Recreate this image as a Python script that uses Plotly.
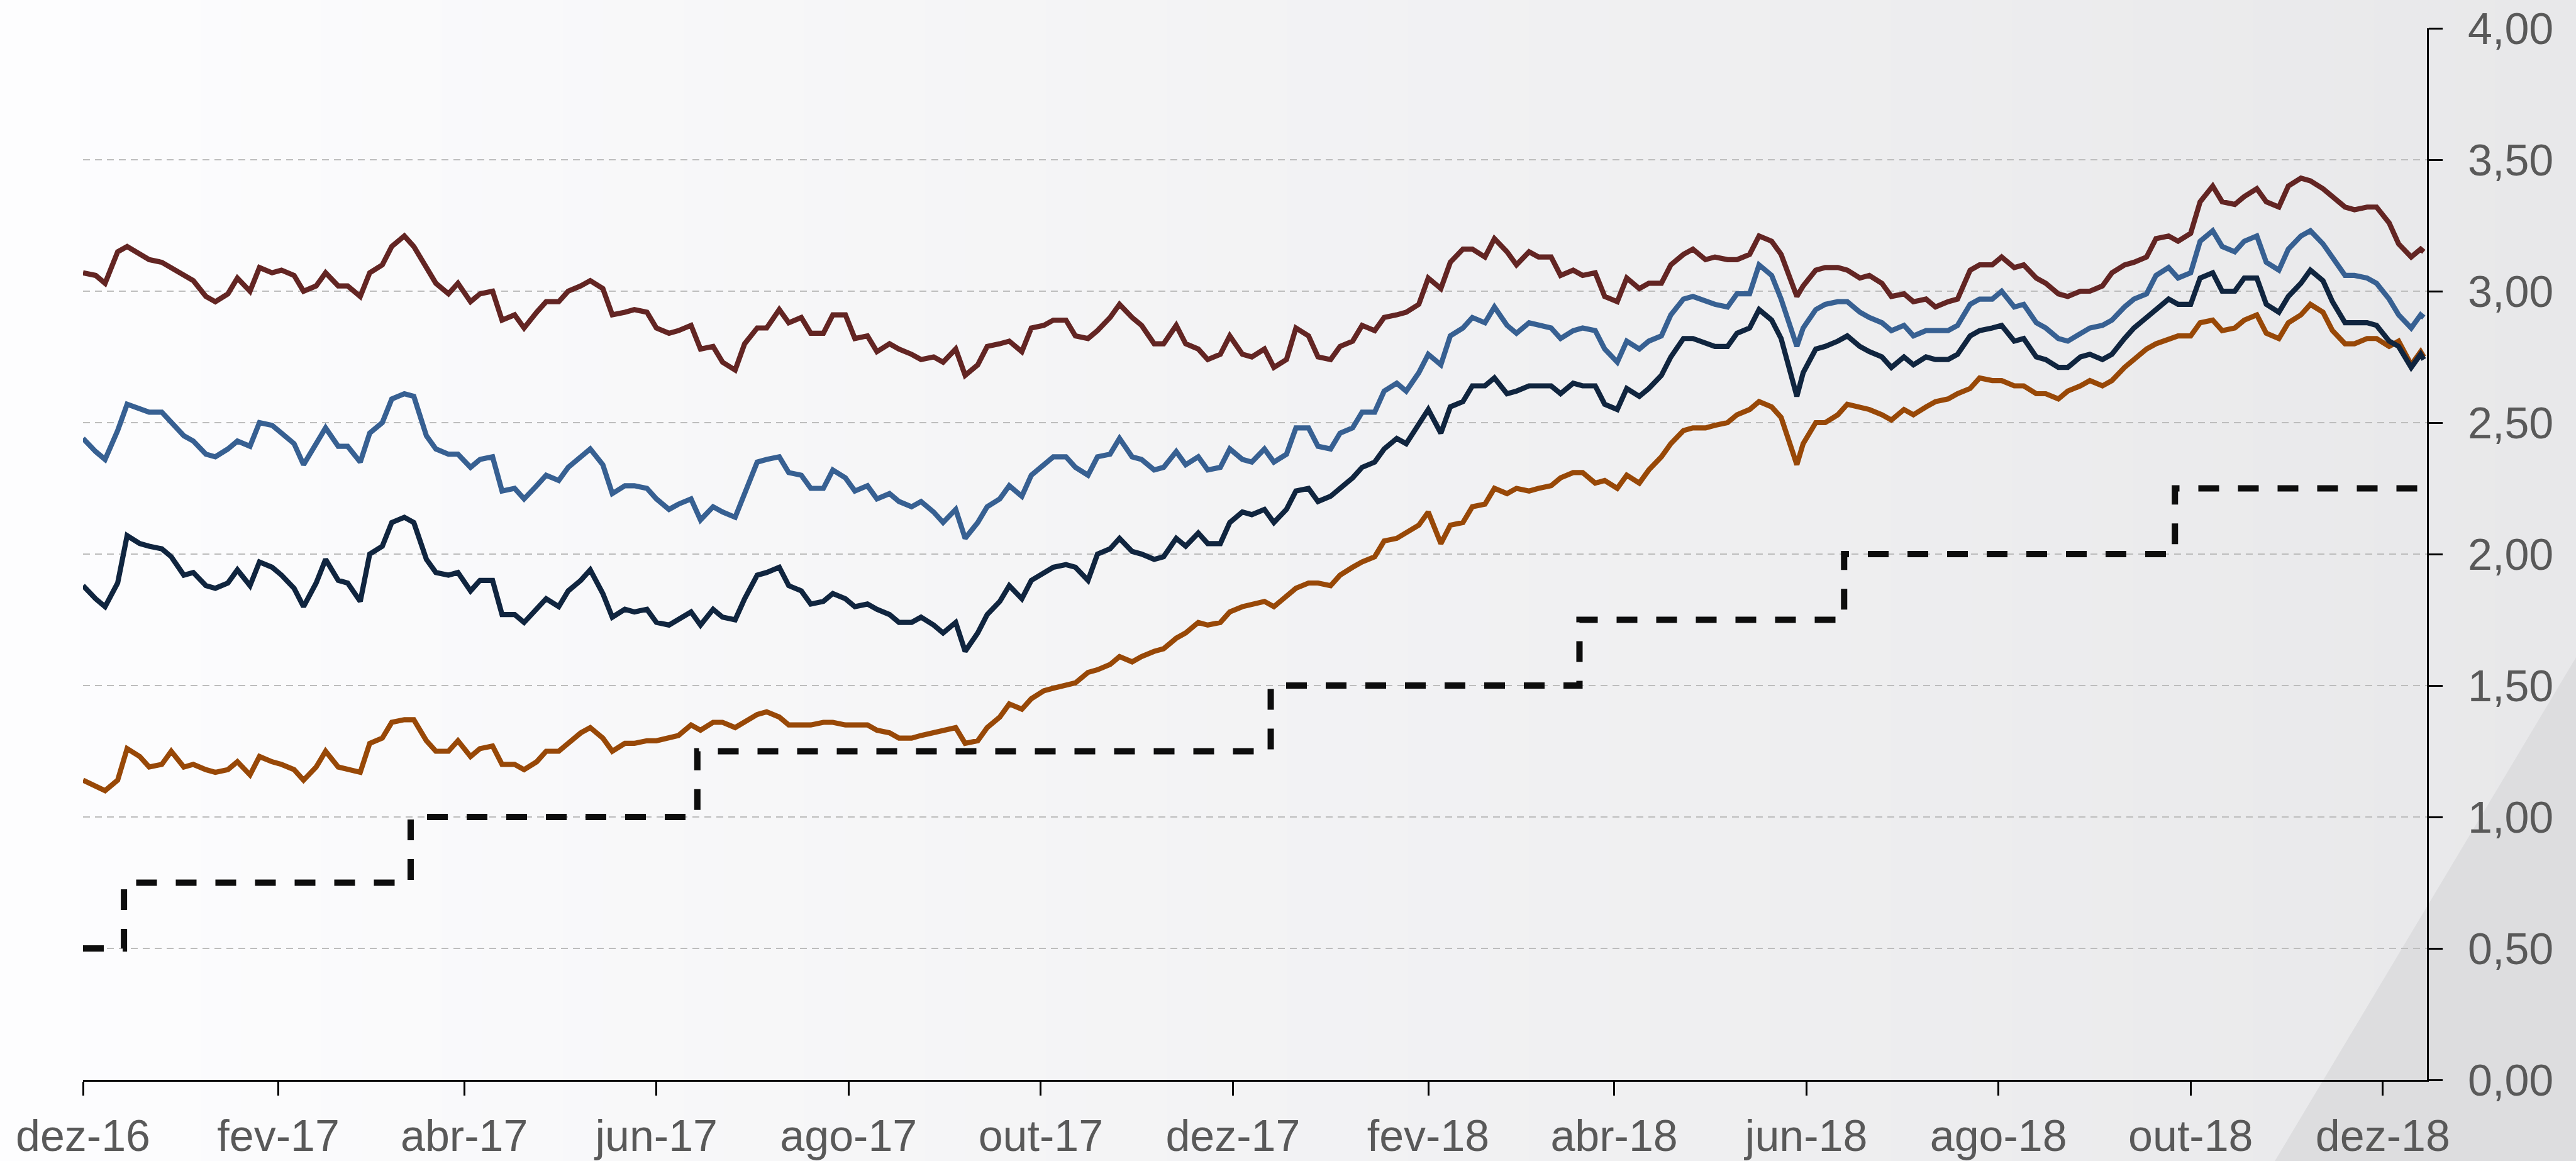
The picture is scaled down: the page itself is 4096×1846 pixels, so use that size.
import plotly.graph_objects as go

# ---------------- data ----------------
DATES = [
    "2016-12-01", "2016-12-05", "2016-12-08", "2016-12-12", "2016-12-15", "2016-12-19", "2016-12-22", "2016-12-26", "2016-12-29",
    "2017-01-02", "2017-01-05", "2017-01-09", "2017-01-12", "2017-01-16", "2017-01-19", "2017-01-23", "2017-01-26", "2017-01-30",
    "2017-02-02", "2017-02-06", "2017-02-09", "2017-02-13", "2017-02-16", "2017-02-20", "2017-02-23", "2017-02-27",
    "2017-03-02", "2017-03-06", "2017-03-09", "2017-03-13", "2017-03-16", "2017-03-20", "2017-03-23", "2017-03-27", "2017-03-30",
    "2017-04-03", "2017-04-06", "2017-04-10", "2017-04-13", "2017-04-17", "2017-04-20", "2017-04-24", "2017-04-27",
    "2017-05-01", "2017-05-04", "2017-05-08", "2017-05-11", "2017-05-15", "2017-05-18", "2017-05-22", "2017-05-25", "2017-05-29",
    "2017-06-01", "2017-06-05", "2017-06-08", "2017-06-12", "2017-06-15", "2017-06-19", "2017-06-22", "2017-06-26", "2017-06-29",
    "2017-07-03", "2017-07-06", "2017-07-10", "2017-07-13", "2017-07-17", "2017-07-20", "2017-07-24", "2017-07-27", "2017-07-31",
    "2017-08-03", "2017-08-07", "2017-08-10", "2017-08-14", "2017-08-17", "2017-08-21", "2017-08-24", "2017-08-28", "2017-08-31",
    "2017-09-04", "2017-09-07", "2017-09-11", "2017-09-14", "2017-09-18", "2017-09-21", "2017-09-25",
    "2017-09-28",
    "2017-10-02", "2017-10-05", "2017-10-09", "2017-10-12", "2017-10-16", "2017-10-19", "2017-10-23", "2017-10-26", "2017-10-30",
    "2017-11-02", "2017-11-06", "2017-11-09", "2017-11-13", "2017-11-16", "2017-11-20", "2017-11-23", "2017-11-27", "2017-11-30",
    "2017-12-04", "2017-12-07", "2017-12-11", "2017-12-14", "2017-12-18", "2017-12-21", "2017-12-25", "2017-12-28",
    "2018-01-01", "2018-01-04", "2018-01-08", "2018-01-11", "2018-01-15", "2018-01-18", "2018-01-22", "2018-01-25", "2018-01-29",
    "2018-02-01", "2018-02-05", "2018-02-08", "2018-02-12", "2018-02-15", "2018-02-19",
    "2018-02-22", "2018-02-26",
    "2018-03-01", "2018-03-05", "2018-03-08", "2018-03-12", "2018-03-15", "2018-03-19", "2018-03-22", "2018-03-26", "2018-03-29",
    "2018-04-02", "2018-04-05", "2018-04-09", "2018-04-12", "2018-04-16", "2018-04-19", "2018-04-23", "2018-04-26", "2018-04-30",
    "2018-05-03", "2018-05-07", "2018-05-10", "2018-05-14", "2018-05-17", "2018-05-21", "2018-05-24", "2018-05-29", "2018-05-31",
    "2018-06-04", "2018-06-07", "2018-06-11", "2018-06-14", "2018-06-18", "2018-06-21", "2018-06-25", "2018-06-28",
    "2018-07-02", "2018-07-05", "2018-07-09", "2018-07-12", "2018-07-16", "2018-07-19",
    "2018-07-23", "2018-07-26", "2018-07-30",
    "2018-08-02", "2018-08-06", "2018-08-09", "2018-08-13", "2018-08-16", "2018-08-20", "2018-08-23", "2018-08-27", "2018-08-30",
    "2018-09-03", "2018-09-06", "2018-09-10", "2018-09-13", "2018-09-17", "2018-09-20", "2018-09-24", "2018-09-27",
    "2018-10-01", "2018-10-04", "2018-10-08", "2018-10-11", "2018-10-15", "2018-10-18", "2018-10-22", "2018-10-25", "2018-10-29",
    "2018-11-01", "2018-11-05", "2018-11-08", "2018-11-12", "2018-11-15", "2018-11-19", "2018-11-22", "2018-11-26", "2018-11-29",
    "2018-12-03", "2018-12-06", "2018-12-10", "2018-12-13", "2018-12-14",
]

# 30-year (dark red)
Y30 = [
    3.07, 3.06, 3.03, 3.15, 3.17, 3.14, 3.12, 3.11, 3.09,
    3.06, 3.04, 2.98, 2.96, 2.99, 3.05, 3.00, 3.09, 3.07, 3.08, 3.06, 3.00, 3.02, 3.07, 3.02, 3.02, 2.98,
    3.07, 3.10, 3.17, 3.21, 3.17, 3.09, 3.03, 2.99, 3.03, 2.96, 2.99, 3.00, 2.89, 2.91, 2.86, 2.92, 2.96,
    2.96, 3.00, 3.02, 3.04, 3.01, 2.91, 2.92, 2.93, 2.92, 2.86, 2.84, 2.85, 2.87, 2.78, 2.79, 2.73, 2.70,
    2.80, 2.86, 2.86, 2.93, 2.88, 2.90, 2.84, 2.84, 2.91, 2.91, 2.82, 2.83, 2.77, 2.80, 2.78, 2.76, 2.74,
    2.75, 2.73, 2.78, 2.68, 2.72, 2.79, 2.80, 2.81, 2.77,
    2.86, 2.87, 2.89, 2.89, 2.83, 2.82, 2.85, 2.90, 2.95, 2.90, 2.87, 2.80, 2.80, 2.87, 2.80, 2.78, 2.74,
    2.76, 2.83, 2.76, 2.75, 2.78, 2.71, 2.74, 2.86, 2.83, 2.75, 2.74, 2.79, 2.81, 2.87, 2.85, 2.90, 2.91,
    2.92, 2.95, 3.05, 3.01, 3.11, 3.16, 3.16, 3.13,
    3.20, 3.15, 3.10, 3.15, 3.13, 3.13, 3.06, 3.08, 3.06, 3.07, 2.98, 2.96, 3.05, 3.01, 3.03, 3.03, 3.10,
    3.14, 3.16, 3.12, 3.13, 3.12, 3.12, 3.14, 3.21, 3.19, 3.14, 2.98, 3.02, 3.08, 3.09, 3.09, 3.08, 3.05,
    3.06, 3.03, 2.98, 2.99, 2.96, 2.97, 2.94, 2.96, 2.97,
    3.08, 3.10, 3.10, 3.13, 3.09, 3.10, 3.05, 3.03, 2.99, 2.98, 3.00, 3.00, 3.02, 3.07, 3.10, 3.11, 3.13,
    3.20, 3.21, 3.19, 3.22, 3.34, 3.40, 3.34, 3.33, 3.36, 3.39, 3.34, 3.32, 3.40, 3.43, 3.42, 3.39, 3.36,
    3.32, 3.31, 3.32, 3.32, 3.26, 3.18, 3.13, 3.16, 3.15,
]

# 10-year (blue)
Y10 = [
    2.44, 2.39, 2.36, 2.47, 2.57, 2.55, 2.54, 2.54, 2.50,
    2.45, 2.43, 2.38, 2.37, 2.40, 2.43, 2.41, 2.50, 2.49, 2.46, 2.42, 2.34, 2.42, 2.48, 2.41, 2.41, 2.35,
    2.46, 2.50, 2.59, 2.61, 2.60, 2.45, 2.40, 2.38, 2.38, 2.33, 2.36, 2.37, 2.24, 2.25, 2.21, 2.26, 2.30,
    2.28, 2.33, 2.37, 2.40, 2.34, 2.23, 2.26, 2.26, 2.25, 2.21, 2.17, 2.19, 2.21, 2.13, 2.18, 2.16, 2.14,
    2.23, 2.35, 2.36, 2.37, 2.31, 2.30, 2.25, 2.25, 2.32, 2.29, 2.24, 2.26, 2.21, 2.23, 2.20, 2.18, 2.20,
    2.16, 2.12, 2.17, 2.06, 2.12, 2.18, 2.21, 2.26, 2.22,
    2.30, 2.34, 2.37, 2.37, 2.33, 2.30, 2.37, 2.38, 2.44, 2.37, 2.36, 2.32, 2.33, 2.39, 2.34, 2.37, 2.32,
    2.33, 2.40, 2.36, 2.35, 2.40, 2.35, 2.38, 2.48, 2.48, 2.41, 2.40, 2.46, 2.48, 2.54, 2.54, 2.62, 2.65,
    2.62, 2.69, 2.76, 2.72, 2.83, 2.86, 2.90, 2.88,
    2.94, 2.87, 2.84, 2.88, 2.87, 2.86, 2.82, 2.85, 2.86, 2.85, 2.78, 2.73, 2.81, 2.78, 2.81, 2.83, 2.91,
    2.97, 2.98, 2.96, 2.95, 2.94, 2.99, 2.99, 3.10, 3.06, 2.97, 2.79, 2.86, 2.93, 2.95, 2.96, 2.96, 2.92,
    2.90, 2.88, 2.85, 2.87, 2.83, 2.85, 2.85, 2.85, 2.87,
    2.95, 2.97, 2.97, 3.00, 2.94, 2.95, 2.88, 2.86, 2.82, 2.81, 2.84, 2.86, 2.87, 2.89, 2.94, 2.97, 2.99,
    3.06, 3.09, 3.05, 3.07, 3.19, 3.23, 3.17, 3.15, 3.19, 3.21, 3.11, 3.08, 3.16, 3.21, 3.23, 3.18, 3.13,
    3.06, 3.06, 3.05, 3.03, 2.97, 2.91, 2.86, 2.91, 2.90,
]

# 5-year (navy)
Y5 = [
    1.88, 1.83, 1.80, 1.89, 2.07, 2.04, 2.03, 2.02, 1.99,
    1.92, 1.93, 1.88, 1.87, 1.89, 1.94, 1.88, 1.97, 1.95, 1.92, 1.87, 1.80, 1.89, 1.98, 1.90, 1.89, 1.82,
    2.00, 2.03, 2.12, 2.14, 2.12, 1.98, 1.93, 1.92, 1.93, 1.86, 1.90, 1.90, 1.77, 1.77, 1.74, 1.79, 1.83,
    1.80, 1.86, 1.90, 1.94, 1.85, 1.76, 1.79, 1.78, 1.79, 1.74, 1.73, 1.75, 1.78, 1.73, 1.79, 1.76, 1.75,
    1.83, 1.92, 1.93, 1.95, 1.88, 1.86, 1.81, 1.82, 1.85, 1.83, 1.80, 1.81, 1.79, 1.77, 1.74, 1.74, 1.76,
    1.73, 1.70, 1.74, 1.63, 1.70, 1.77, 1.82, 1.88, 1.83,
    1.90, 1.93, 1.95, 1.96, 1.95, 1.90, 2.00, 2.02, 2.06, 2.01, 2.00, 1.98, 1.99, 2.06, 2.03, 2.08, 2.04,
    2.04, 2.12, 2.16, 2.15, 2.17, 2.12, 2.17, 2.24, 2.25, 2.20, 2.22, 2.25, 2.29, 2.33, 2.35, 2.40, 2.44,
    2.42, 2.49, 2.55, 2.46, 2.56, 2.58, 2.64, 2.64,
    2.67, 2.61, 2.62, 2.64, 2.64, 2.64, 2.61, 2.65, 2.64, 2.64, 2.57, 2.55, 2.63, 2.60, 2.63, 2.68, 2.75,
    2.82, 2.82, 2.80, 2.79, 2.79, 2.84, 2.86, 2.93, 2.89, 2.82, 2.60, 2.69, 2.78, 2.79, 2.81, 2.83, 2.79,
    2.77, 2.75, 2.71, 2.75, 2.72, 2.75, 2.74, 2.74, 2.76,
    2.83, 2.85, 2.86, 2.87, 2.81, 2.82, 2.75, 2.74, 2.71, 2.71, 2.75, 2.76, 2.74, 2.76, 2.82, 2.86, 2.90,
    2.93, 2.97, 2.95, 2.95, 3.05, 3.07, 3.00, 3.00, 3.05, 3.05, 2.95, 2.92, 2.98, 3.03, 3.08, 3.04, 2.96,
    2.88, 2.88, 2.88, 2.87, 2.81, 2.79, 2.71, 2.76, 2.74,
]

# 2-year (orange)
Y2 = [
    1.14, 1.12, 1.10, 1.14, 1.26, 1.23, 1.19, 1.20, 1.25,
    1.19, 1.20, 1.18, 1.17, 1.18, 1.21, 1.16, 1.23, 1.21, 1.20, 1.18, 1.14, 1.19, 1.25, 1.19, 1.18, 1.17,
    1.28, 1.30, 1.36, 1.37, 1.37, 1.29, 1.25, 1.25, 1.29, 1.23, 1.26, 1.27, 1.20, 1.20, 1.18, 1.21, 1.25,
    1.25, 1.28, 1.32, 1.34, 1.30, 1.25, 1.28, 1.28, 1.29, 1.29, 1.30, 1.31, 1.35, 1.33, 1.36, 1.36, 1.34,
    1.36, 1.39, 1.40, 1.38, 1.35, 1.35, 1.35, 1.36, 1.36, 1.35, 1.35, 1.35, 1.33, 1.32, 1.30, 1.30, 1.31,
    1.32, 1.33, 1.34, 1.28, 1.29, 1.34, 1.38, 1.43, 1.41,
    1.45, 1.48, 1.49, 1.50, 1.51, 1.55, 1.56, 1.58, 1.61, 1.59, 1.61, 1.63, 1.64, 1.68, 1.70, 1.74, 1.73,
    1.74, 1.78, 1.80, 1.81, 1.82, 1.80, 1.84, 1.87, 1.89, 1.89, 1.88, 1.92, 1.95, 1.97, 1.99, 2.05, 2.06,
    2.08, 2.11, 2.16, 2.04, 2.11, 2.12, 2.18, 2.19,
    2.25, 2.23, 2.25, 2.24, 2.25, 2.26, 2.29, 2.31, 2.31, 2.27, 2.28, 2.25, 2.30, 2.27, 2.32, 2.37, 2.42,
    2.47, 2.48, 2.48, 2.49, 2.50, 2.53, 2.55, 2.58, 2.56, 2.52, 2.34, 2.42, 2.50, 2.50, 2.53, 2.57, 2.56,
    2.55, 2.53, 2.51, 2.55, 2.53, 2.56, 2.58, 2.59, 2.61,
    2.63, 2.67, 2.66, 2.66, 2.64, 2.64, 2.61, 2.61, 2.59, 2.62, 2.64, 2.66, 2.64, 2.66, 2.71, 2.74, 2.78,
    2.80, 2.82, 2.83, 2.83, 2.88, 2.89, 2.85, 2.86, 2.89, 2.91, 2.84, 2.82, 2.88, 2.91, 2.95, 2.92, 2.85,
    2.80, 2.80, 2.82, 2.82, 2.79, 2.81, 2.72, 2.77, 2.75,
]

# Fed funds target (upper bound), step changes
FED_DATES = ["2016-12-01", "2016-12-14", "2017-03-15", "2017-06-14", "2017-12-13",
             "2018-03-21", "2018-06-13", "2018-09-26", "2018-12-14"]
FED_RATE = [0.50, 0.75, 1.00, 1.25, 1.50, 1.75, 2.00, 2.25, 2.25]

X_TICK_DATES = ["2016-12-01", "2017-02-01", "2017-04-01", "2017-06-01", "2017-08-01",
                "2017-10-01", "2017-12-01", "2018-02-01", "2018-04-01", "2018-06-01",
                "2018-08-01", "2018-10-01", "2018-12-01"]
X_TICK_LABELS = ["dez-16", "fev-17", "abr-17", "jun-17", "ago-17", "out-17", "dez-17",
                 "fev-18", "abr-18", "jun-18", "ago-18", "out-18", "dez-18"]
Y_TICKS = [0.0, 0.5, 1.0, 1.5, 2.0, 2.5, 3.0, 3.5, 4.0]

for s in (Y30, Y10, Y5, Y2):
    assert len(s) == len(DATES), (len(s), len(DATES))

# ---------------- figure ----------------
W, H = 4096, 1846
ML, MR, MT, MB = 132, 237, 45, 129
PW, PH = W - ML - MR, H - MT - MB


def px_to_paper(px, py):
    return (px - ML) / PW, (H - MB - py) / PH


fig = go.Figure()

fig.add_trace(go.Scatter(
    x=FED_DATES, y=FED_RATE, mode="lines",
    line=dict(color="#0d0d0d", width=10, dash="33px,30px", shape="hv"),
    hoverinfo="skip", showlegend=False))

series = [
    (Y2, "#984807"),
    (Y5, "#10253F"),
    (Y10, "#376092"),
    (Y30, "#632523"),
]
for ys, col in series:
    fig.add_trace(go.Scatter(
        x=DATES, y=ys, mode="lines",
        line=dict(color=col, width=8.2),
        hoverinfo="skip", showlegend=False))

# background gradient (decorative strips)
shapes = []
N = 64
for i in range(N):
    t = (i + 0.5) / N
    c = 253 - 21 * t
    x0, y0 = px_to_paper(W * i / N - 1, H + 2)
    x1, y1 = px_to_paper(W * (i + 1) / N + 1, -2)
    shapes.append(dict(type="rect", xref="paper", yref="paper",
                       x0=x0, x1=x1, y0=y0, y1=y1, layer="below",
                       line=dict(width=0),
                       fillcolor=f"rgb({c:.0f},{c:.0f},{min(255, c + 1.5):.0f})"))

# darker diagonal wedge bottom right
pts = [px_to_paper(3616, H + 2), px_to_paper(W + 2, 1042), px_to_paper(W + 2, H + 2)]
path = "M {} {} L {} {} L {} {} Z".format(pts[0][0], pts[0][1], pts[1][0], pts[1][1], pts[2][0], pts[2][1])
shapes.append(dict(type="path", xref="paper", yref="paper", path=path, layer="below",
                   line=dict(width=0), fillcolor="rgb(221,221,223)"))

FONT = "Liberation Sans, Arial, sans-serif"

fig.update_layout(
    width=W, height=H,
    margin=dict(l=ML, r=MR, t=MT, b=MB, pad=0, autoexpand=False),
    paper_bgcolor="rgb(242,242,243)",
    plot_bgcolor="rgba(0,0,0,0)",
    separators=",.",
    shapes=shapes,
    showlegend=False,
    font=dict(family=FONT, size=70, color="#595959"),
    xaxis=dict(
        type="date",
        range=["2016-12-01", "2018-12-15"],
        tickmode="array", tickvals=X_TICK_DATES, ticktext=X_TICK_LABELS,
        ticks="outside", ticklen=22, tickwidth=2.5, tickcolor="black",
        showline=True, linecolor="black", linewidth=3,
        showgrid=False, zeroline=False, automargin=False,
        tickfont=dict(family=FONT, size=70, color="#595959"),
        ticklabelstandoff=4,
    ),
    yaxis=dict(
        side="right",
        range=[0, 4],
        tickmode="array", tickvals=Y_TICKS,
        tickformat=".2f",
        ticks="outside", ticklen=22, tickwidth=2.5, tickcolor="black",
        showline=True, linecolor="black", linewidth=3,
        showgrid=True, gridcolor="#bdbdbd", gridwidth=2, griddash="11px,8px",
        zeroline=False, automargin=False,
        tickfont=dict(family=FONT, size=70, color="#595959"),
        ticklabelstandoff=26,
    ),
)

fig.write_html("out.html",
               config={"displayModeBar": False},
               post_script="document.body.style.margin='0';document.body.style.overflow='hidden';")
